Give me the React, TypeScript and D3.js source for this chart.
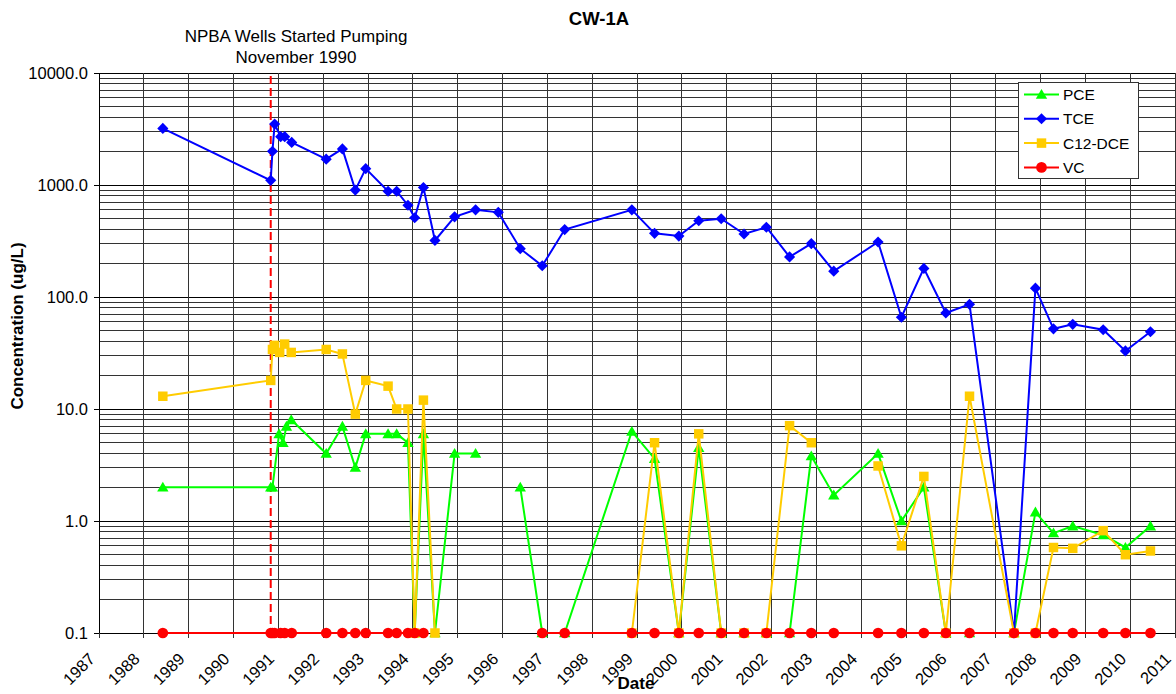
import * as d3 from 'd3';

// sampling dates and concentrations (ug/L); null = no result for that event
const tceDates = [
  '1988-06-04', '1990-10-31', '1990-11-14', '1990-12-02', '1991-01-20', '1991-02-22', '1991-04-20',
  '1992-01-26', '1992-06-06', '1992-09-19', '1992-12-13', '1993-06-13', '1993-08-22', '1993-11-22',
  '1994-01-16', '1994-03-28', '1994-06-30', '1994-12-07', '1995-05-27', '1995-11-28', '1996-05-25',
  '1996-11-20', '1997-05-22', '1998-11-20', '1999-05-24', '1999-12-08', '2000-05-18', '2000-11-17',
  '2001-05-22', '2001-11-20', '2002-05-28', '2002-11-21', '2003-05-23', '2004-05-18', '2004-11-24',
  '2005-05-26', '2005-11-21', '2006-06-02', '2007-05-30', '2007-11-21', '2008-04-16', '2008-09-20',
  '2009-05-26', '2009-11-23', '2010-06-15',
];
const tceValues = [
  3200, 1100, 2000, 3500, 2700, 2700, 2400,
  1700, 2100, 900, 1400, 880, 880, 660,
  510, 950, 320, 520, 600, 570, 270,
  190, 400, 600, 370, 350, 480, 500,
  365, 420, 228, 300, 170, 310, 66,
  180, 72, 86, 0.1, 120, 52, 57,
  51, 33, 49,
];

const pceDates = [
  '1988-06-04', '1990-10-31', '1990-11-14', '1991-01-07', '1991-02-08', '1991-03-08', '1991-04-16',
  '1992-01-26', '1992-06-06', '1992-09-19', '1992-12-13', '1993-06-13', '1993-08-22', '1993-11-22',
  '1994-01-16', '1994-03-28', '1994-06-30', '1994-12-07', '1995-05-27', '1995-11-28', '1996-05-25',
  '1996-11-20', '1997-05-22', '1998-11-20', '1999-05-24', '1999-12-08', '2000-05-18', '2000-11-17',
  '2001-05-22', '2001-11-20', '2002-05-28', '2002-11-21', '2003-05-23', '2004-05-18', '2004-11-24',
  '2005-05-26', '2005-11-21', '2006-06-02', '2007-05-30', '2007-11-21', '2008-04-16', '2008-09-20',
  '2009-05-26', '2009-11-23', '2010-06-15',
];
const pceValues = [
  2.0, 2.0, 2.0, 6.0, 5.0, 7.0, 8.0,
  4.0, 7.0, 3.0, 6.0, 6.0, 6.0, 5.0,
  0.1, 6.0, 0.1, 4.0, 4.0, null, 2.0,
  0.1, 0.1, 6.3, 3.6, 0.1, 4.5, 0.1,
  0.1, 0.1, 0.1, 3.8, 1.7, 4.0, 1.0,
  2.0, 0.1, 0.1, 0.1, 1.2, 0.78, 0.9,
  0.75, 0.58, 0.9,
];

const dceDates = [
  '1988-06-04', '1990-10-31', '1990-11-14', '1990-12-02', '1991-01-12', '1991-02-22', '1991-04-16',
  '1992-01-26', '1992-06-06', '1992-09-19', '1992-12-13', '1993-06-13', '1993-08-22', '1993-11-22',
  '1994-01-16', '1994-03-28', '1994-06-30', '1994-12-07', '1998-11-20', '1999-05-24', '1999-12-08',
  '2000-05-18', '2000-11-17', '2001-05-22', '2001-11-20', '2002-05-28', '2002-11-21', '2003-05-23',
  '2004-05-18', '2004-11-24', '2005-05-26', '2005-11-21', '2006-06-02', '2007-05-30', '2007-11-21',
  '2008-04-16', '2008-09-20', '2009-05-26', '2009-11-23', '2010-06-15',
];
const dceValues = [
  13, 18, 34, 37, 32, 38, 32,
  34, 31, 9.0, 18, 16, 10, 10,
  0.1, 12, 0.1, null, 0.1, 5.0, 0.1,
  6.0, 0.1, 0.1, 0.1, 7.1, 5.0, null,
  3.1, 0.6, 2.5, 0.1, 13, 0.1, 0.1,
  0.58, 0.57, 0.82, 0.5, 0.54,
];

const vcDates = [
  '1988-06-04', '1990-10-31', '1990-11-14', '1990-12-02', '1991-01-20', '1991-02-22', '1991-04-20',
  '1992-01-26', '1992-06-06', '1992-09-19', '1992-12-13', '1993-06-13', '1993-08-22', '1993-11-22',
  '1994-01-16', '1994-03-28', '1994-06-30', '1996-11-20', '1997-05-22', '1998-11-20', '1999-05-24',
  '1999-12-08', '2000-05-18', '2000-11-17', '2001-05-22', '2001-11-20', '2002-05-28', '2002-11-21',
  '2003-05-23', '2004-05-18', '2004-11-24', '2005-05-26', '2005-11-21', '2006-06-02', '2007-05-30',
  '2007-11-21', '2008-04-16', '2008-09-20', '2009-05-26', '2009-11-23', '2010-06-15',
];
const vcValues = [
  0.1, 0.1, 0.1, 0.1, 0.1, 0.1, 0.1,
  0.1, 0.1, 0.1, 0.1, 0.1, 0.1, 0.1,
  0.1, 0.1, null, 0.1, 0.1, 0.1, 0.1,
  0.1, 0.1, 0.1, 0.1, 0.1, 0.1, 0.1,
  0.1, 0.1, 0.1, 0.1, 0.1, 0.1, 0.1,
  0.1, 0.1, 0.1, 0.1, 0.1, 0.1,
];

const yearTicks = d3.range(1987, 2012);
const yTickValues = [0.1, 1, 10, 100, 1000, 10000];
const pumpingStart = '1990-10-31';

const W = 1176;
const H = 694;
const FONT = 'Arial, "Liberation Sans", sans-serif';
const parse = d3.timeParse('%Y-%m-%d');

const x = d3.scaleTime()
  .domain([new Date(1987, 0, 1), new Date(2011, 0, 1)])
  .range([99, 1175]);
const y = d3.scaleLog().domain([0.1, 10000]).range([633, 73]);

type Pt = { d: Date; v: number | null };
const zip = (dates: string[], vals: (number | null)[]): Pt[] =>
  dates.map((s, i) => ({ d: parse(s) as Date, v: vals[i] }));

const series = [
  { name: 'PCE', color: '#00FF00', shape: 'triangle', pts: zip(pceDates, pceValues) },
  { name: 'TCE', color: '#0000FF', shape: 'diamond', pts: zip(tceDates, tceValues) },
  { name: 'C12-DCE', color: '#FFCC00', shape: 'square', pts: zip(dceDates, dceValues) },
  { name: 'VC', color: '#FF0000', shape: 'circle', pts: zip(vcDates, vcValues) },
];

const symbolPath = (shape: string) => {
  if (shape === 'triangle') return d3.symbol(d3.symbolTriangle, 56)();
  if (shape === 'square') return d3.symbol(d3.symbolSquare, 90)();
  if (shape === 'diamond') return d3.symbol(d3.symbolSquare, 62)();
  return d3.symbol(d3.symbolCircle, 90)();
};
const symbolTransform = (shape: string, px: number, py: number) =>
  `translate(${px},${py})` + (shape === 'diamond' ? ' rotate(45)' : '') + (shape === 'triangle' ? ' translate(0,1)' : '');

const line = d3.line<Pt>()
  .defined(p => p.v !== null)
  .x(p => x(p.d))
  .y(p => y(p.v as number));

// minor grid values 2..9 for each decade
const minorVals: number[] = [];
for (let e = -1; e < 4; e++) {
  for (let m = 2; m <= 9; m++) minorVals.push(m * Math.pow(10, e));
}

export default function App() {
  const [x0, x1] = x.range();
  const pumpX = x(parse(pumpingStart) as Date);
  return (
    <svg width={W} height={H} style={{ position: 'absolute', left: 0, top: 0, background: '#fff' }}
      fontFamily={FONT}>
      <rect width={W} height={H} fill="#fff" />

      {/* gridlines */}
      <g stroke="#333" strokeWidth={1} shapeRendering="crispEdges">
        {minorVals.map(v => (
          <line key={'m' + v} x1={x0} x2={x1} y1={y(v)} y2={y(v)} />
        ))}
        {yTickValues.map(v => (
          <line key={'M' + v} x1={x0 - 5} x2={x1} y1={y(v)} y2={y(v)} stroke="#000" />
        ))}
        {yearTicks.map(yr => {
          const px = x(new Date(yr, 0, 1));
          return <line key={'v' + yr} x1={px} x2={px} y1={y(10000)} y2={y(0.1) + 5} />;
        })}
        <line x1={x0} x2={x0} y1={y(10000)} y2={y(0.1)} stroke="#000" />
      </g>

      {/* y tick labels */}
      <g fontSize={16.5} textAnchor="end" fill="#000">
        {yTickValues.map(v => (
          <text key={v} x={88} y={y(v) + 6}>{v.toFixed(1)}</text>
        ))}
      </g>

      {/* x tick labels */}
      <g fontSize={16.5} textAnchor="end" fill="#000">
        {yearTicks.map(yr => {
          const px = x(new Date(yr, 0, 1));
          return (
            <text key={yr} transform={`translate(${px - 3},${660}) rotate(-45)`}>{yr}</text>
          );
        })}
      </g>

      {/* pumping start marker */}
      <line x1={pumpX} x2={pumpX} y1={76} y2={y(0.1)} stroke="#FF0000" strokeWidth={2}
        strokeDasharray="8,4" />
      <g fontSize={17} textAnchor="middle" fill="#000">
        <text x={296} y={41.5}>NPBA Wells Started Pumping</text>
        <text x={296} y={63}>November 1990</text>
      </g>

      {/* series */}
      {series.map(s => (
        <g key={s.name}>
          <path d={line(s.pts) || ''} fill="none" stroke={s.color} strokeWidth={2} />
          {s.pts.filter(p => p.v !== null).map((p, i) => (
            <path key={i} d={symbolPath(s.shape) || ''}
              transform={symbolTransform(s.shape, x(p.d), y(p.v as number))} fill={s.color} />
          ))}
        </g>
      ))}

      {/* titles */}
      <text x={599} y={25} fontSize={18.5} fontWeight="bold" textAnchor="middle">CW-1A</text>
      <text x={636} y={689} fontSize={17} fontWeight="bold" textAnchor="middle">Date</text>
      <text transform="translate(23,326) rotate(-90)" fontSize={17} fontWeight="bold"
        textAnchor="middle">Concentration (ug/L)</text>

      {/* legend */}
      <g>
        <rect x={1018.5} y={82.5} width={120} height={96} fill="#fff" stroke="#333" strokeWidth={1} />
        {series.map((s, i) => {
          const ly = 94.5 + i * 24.3;
          return (
            <g key={s.name}>
              <line x1={1024} x2={1059} y1={ly} y2={ly} stroke={s.color} strokeWidth={2} />
              <path d={symbolPath(s.shape) || ''} transform={symbolTransform(s.shape, 1041.5, ly)}
                fill={s.color} />
              <text x={1063} y={ly + 5.5} fontSize={15.5}>{s.name}</text>
            </g>
          );
        })}
      </g>
    </svg>
  );
}
